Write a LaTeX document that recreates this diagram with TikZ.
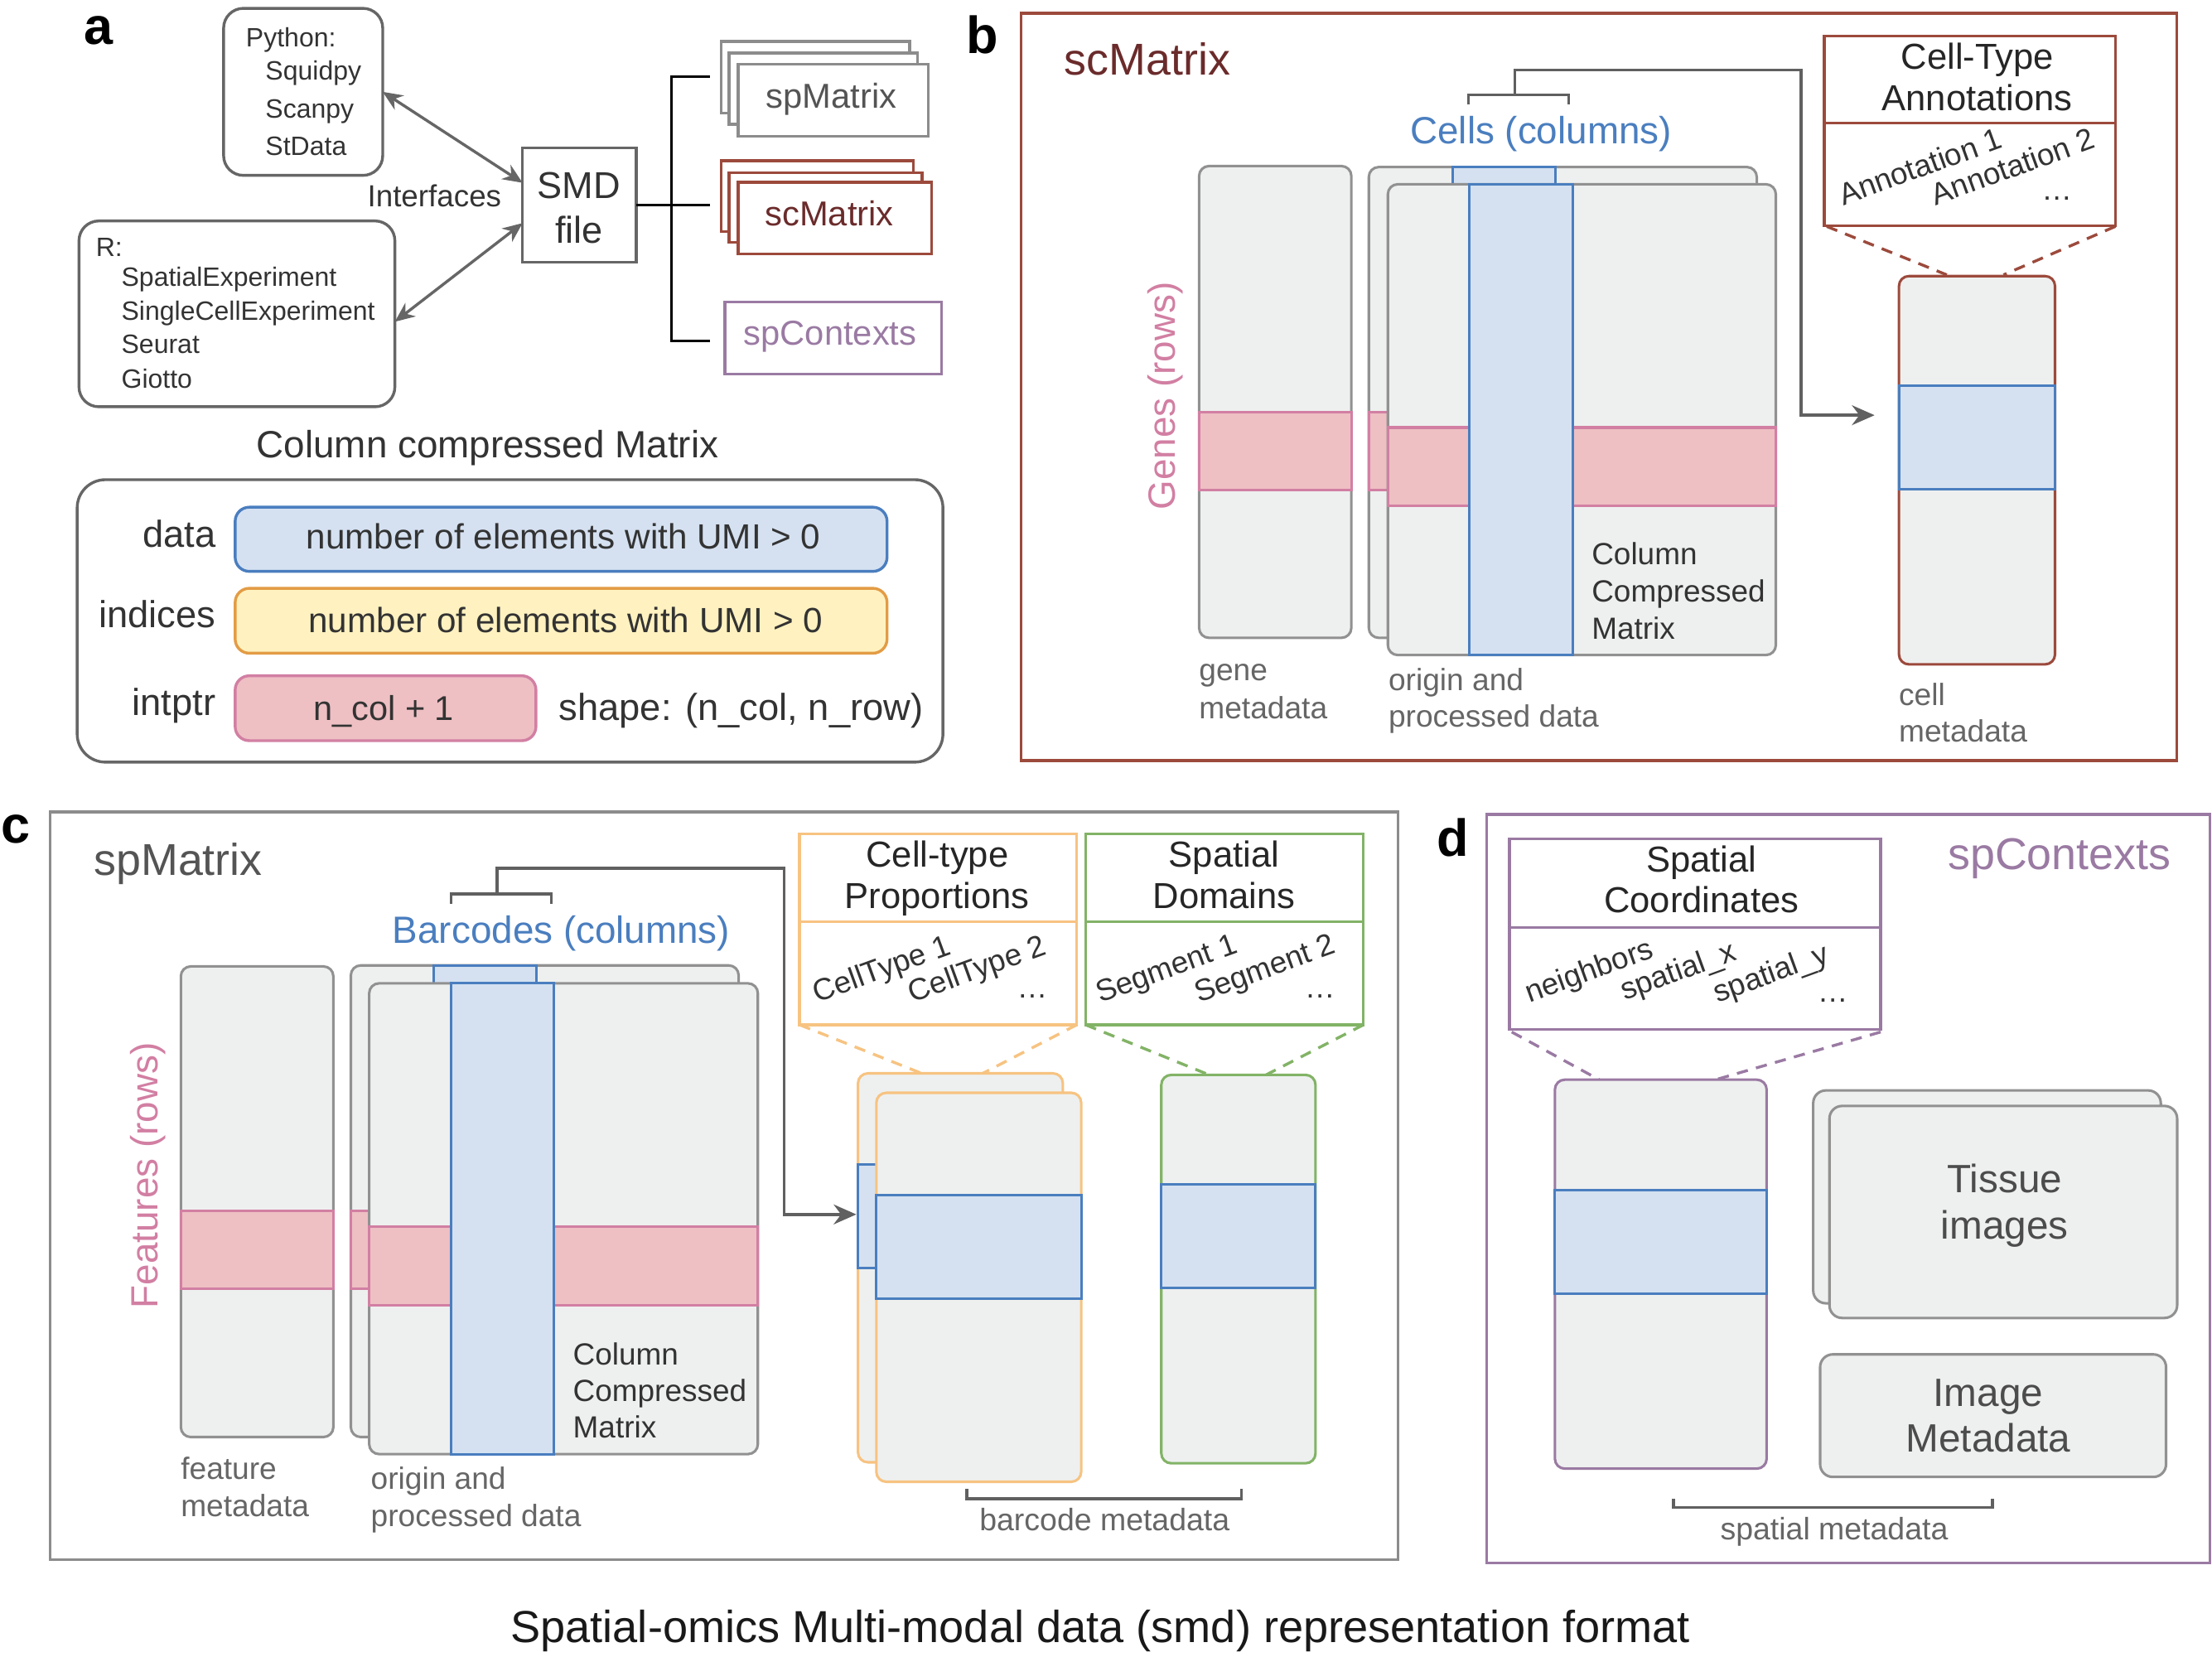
\documentclass[tikz,border=0pt]{standalone}
\usepackage{fontspec}
\setmainfont{Liberation Sans}
\usetikzlibrary{arrows.meta}
\newcommand\fsz[1]{\fontsize{#1}{#1}\selectfont}
\definecolor{txt}{HTML}{333333}
\definecolor{txtg}{HTML}{666666}
\definecolor{boxg}{HTML}{666666}
\definecolor{brk}{HTML}{606060}
\definecolor{matb}{HTML}{919191}
\definecolor{matf}{HTML}{EEF0EF}
\definecolor{pinkf}{HTML}{EEBFC3}
\definecolor{pinkd}{HTML}{D27FA3}
\definecolor{bluef}{HTML}{D5E1F1}
\definecolor{blued}{HTML}{4A7EBF}
\definecolor{yelf}{HTML}{FFF2C0}
\definecolor{orad}{HTML}{E39C45}
\definecolor{brn}{HTML}{9C4A3C}
\definecolor{darkred}{HTML}{6B2B2B}
\definecolor{lorange}{HTML}{F7C381}
\definecolor{grn}{HTML}{82B366}
\definecolor{purp}{HTML}{9A7AA3}
\definecolor{framec}{HTML}{8C8C8C}
\definecolor{stkg}{HTML}{8C8C8C}
\tikzset{
  t/.style={inner sep=0pt, outer sep=0pt},
  mat/.style={draw=matb, fill=matf, line width=0.9pt, rounded corners=3.5pt},
  pband/.style={draw=pinkd, fill=pinkf, line width=0.9pt},
  bband/.style={draw=blued, fill=bluef, line width=0.9pt},
  stk/.style={draw=#1, fill=white, line width=1pt},
  abox/.style={draw=boxg, line width=1pt, inner sep=0pt, outer sep=0pt},
  dbl/.style={draw=boxg, line width=1pt, {Stealth[length=7pt,width=6pt]}-{Stealth[length=7pt,width=6pt]}},
  brack/.style={draw=brk, line width=1pt},
  parr/.style={draw=brk, line width=1pt, -{Stealth[length=8pt,width=7pt]}},
  dsh/.style={line width=1pt, dash pattern=on 4pt off 3pt},
  rot/.style={t, rotate=20, anchor=base west, font=\fsz{10.8}, text=txt},
  small/.style={t, anchor=base west, font=\fsz{10.9}, text=txtg},
  ccm/.style={t, anchor=base west, font=\fsz{10.85}, text=txt},
  ttl/.style={t, anchor=base, font=\fsz{12.8}, text=black!85},
  letter/.style={t, anchor=base west, font=\bfseries\fsz{18.5}},
}
\begin{document}
\begin{tikzpicture}[x=0.5pt,y=-0.5pt]
\useasboundingbox (0,0) rectangle (1568,1174.5);
\fill[white] (0,0) rectangle (1568,1174.5);

%% ---------------- panel a ----------------
\node[letter] (la) at (59.5,31.3) {a};
\node[abox, rounded corners=7pt, minimum width=56.4pt, minimum height=59.2pt] (py) at (214.9,65.1) {};
\node[abox, rounded corners=7pt, minimum width=111.95pt, minimum height=65.85pt] (rb) at (167.95,222.45) {};
\node[abox, minimum width=40.25pt, minimum height=40.65pt] (smd) at (410.65,145.35) {};
\begin{scope}[every node/.style={t, anchor=base west, font=\fsz{9.4}, text=txt}]
\node (py0) at (174.4,33.3) {Python:};
\node (py1) at (188.2,56.7) {Squidpy};
\node (py2) at (188.2,83.8) {Scanpy};
\node (py3) at (188.2,110) {StData};
\node (r0) at (68,181.7) {R:};
\node (r1) at (86.1,202.6) {SpatialExperiment};
\node (r2) at (86.1,226.7) {SingleCellExperiment};
\node (r3) at (86.1,250.5) {Seurat};
\node (r4) at (86.1,275) {Giotto};
\end{scope}
\node[t, anchor=base west, font=\fsz{10.8}, text=txt] (intf) at (260.5,146.8) {Interfaces};
\node[t, anchor=base, font=\fsz{13.25}, text=txt] (smd1) at (410.4,140.5) {SMD};
\node[t, anchor=base, font=\fsz{13.25}, text=txt] (smd2) at (410.4,172.2) {file};
\draw[dbl] (py.east) -- ([yshift=7.9pt]smd.west);
\draw[dbl] ([yshift=-2.8pt]rb.east) -- ([yshift=-6.4pt]smd.west);
% bracket
\coordinate (bk0) at (475.9,145.35);
\draw[line width=1pt] (smd.east) -- (bk0);
\draw[line width=1pt] (503,54.4) -- (475.9,54.4) -- (475.9,241.8) -- (503,241.8);
\draw[line width=1pt] (475.9,145.2) -- (503,145.2);
% stacks
\draw[stk=stkg] (511.2,29.4) rectangle (644.7,80.2);
\draw[stk=stkg] (516.8,37.6) rectangle (650.3,88);
\draw[stk=stkg] (523.3,45.4) rectangle (658,96.5);
\node[t, anchor=base, font=\fsz{12.25}, text=black!67] (spm) at (589.4,76.7) {spMatrix};
\draw[stk=brn] (511.2,113.9) rectangle (647.3,164);
\draw[stk=brn] (516.8,122.3) rectangle (653.7,171.9);
\draw[stk=brn] (523.3,129.2) rectangle (660.2,180);
\node[t, anchor=base, font=\fsz{12.25}, text=darkred] (scm) at (587.9,160.1) {scMatrix};
\draw[stk=purp] (513.8,214) rectangle (667.5,265);
\node[t, anchor=base, font=\fsz{12.25}, text=purp] (spc) at (588.5,244.7) {spContexts};
% CSC matrix
\node[t, anchor=base, font=\fsz{13.45}, text=txt] (csct) at (345.6,324.5) {Column compressed Matrix};
\draw[draw=boxg, line width=1pt, rounded corners=10pt] (54.7,340) rectangle (668.4,540.2);
\draw[draw=blued, fill=bluef, line width=1pt, rounded corners=5pt] (166.7,359.5) rectangle (628.8,405);
\draw[draw=orad, fill=yelf, line width=1pt, rounded corners=5pt] (166.7,417) rectangle (628.8,463);
\draw[draw=pinkd, fill=pinkf, line width=1pt, rounded corners=5pt] (166.7,479) rectangle (379.9,525);
\node[t, anchor=base, font=\fsz{12.4}, text=txt] (dtxt) at (399.4,389.1) {number of elements with UMI > 0};
\node[t, anchor=base, font=\fsz{12.4}, text=txt] (itxt) at (401,448.2) {number of elements with UMI > 0};
\node[t, anchor=base, font=\fsz{12.2}, text=txt] (ptxt) at (272,510.5) {n\_col + 1};
\node[t, anchor=base west, font=\fsz{13.3}, text=txt] (shp) at (396.2,510.5) {shape: (n\_col, n\_row)};
\node[t, anchor=base east, font=\fsz{13.3}, text=txt] (ldata) at (152.9,388.1) {data};
\node[t, anchor=base east, font=\fsz{13.3}, text=txt] (lind) at (152.9,444.9) {indices};
\node[t, anchor=base east, font=\fsz{13.3}, text=txt] (lptr) at (152.9,507) {intptr};

%% ---------------- panel b ----------------
\draw[brn, line width=1pt] (723.9,9.4) rectangle (1543,539.1);
\node[letter] (lb) at (685,38) {b};
\node[t, anchor=base west, font=\fsz{15.8}, text=darkred] (bt) at (754.6,52.9) {scMatrix};
\draw[mat] (850,117.7) rectangle (957.9,452.1);
\draw[pband] (850,291.9) rectangle (957.9,347.6);
\draw[mat] (970.3,118.4) rectangle (1245.3,452.1);
\draw[pband] (970.3,291.9) rectangle (1245.3,347.6);
\draw[bband] (1029.6,118.4) rectangle (1102.4,452.1);
\draw[mat] (983.8,130.6) rectangle (1258.8,464.3);
\draw[pband] (983.8,303) rectangle (1258.8,358.7);
\draw[bband] (1041.5,130.6) rectangle (1114.8,464.3);
\node[ccm] (bc1) at (1128.3,400.5) {Column};
\node[ccm] (bc2) at (1128.3,426.6) {Compressed};
\node[ccm] (bc3) at (1128.3,452.8) {Matrix};
\node[t, anchor=base, font=\fsz{13.45}, text=blued] (cells) at (1092.4,101.7) {Cells (columns)};
\node[t, rotate=90, font=\fsz{13.45}, text=pinkd] (genes) at (826,280.7) {Genes (rows)};
\node[small] (bg1) at (850,482.4) {gene};
\node[small] (bg2) at (850,509.2) {metadata};
\node[small] (bo1) at (984.3,489.3) {origin and};
\node[small] (bo2) at (984.3,515.5) {processed data};
\draw[brn, line width=1pt, fill=white] (1293.2,25.4) rectangle (1499.7,159.9);
\draw[brn, line width=1pt] (1293.2,87.1) -- (1499.7,87.1);
\node[ttl] (ct1) at (1401.6,48.9) {Cell-Type};
\node[ttl] (ct2) at (1401.6,78.3) {Annotations};
\node[rot] (an1) at (1306.7,145.8) {Annotation 1};
\node[rot] (an2) at (1372.3,145.8) {Annotation 2};
\node[t, anchor=base, font=\fsz{10.8}, text=txt] (an3) at (1458,141.9) {…};
\draw[brn, dsh] (1294.9,160.5) -- (1380,194.8);
\draw[brn, dsh] (1499.5,160.5) -- (1420.2,194.8);
\draw[mat, draw=brn] (1346.1,195.7) rectangle (1456.7,470.9);
\draw[bband] (1346.1,273.4) rectangle (1456.7,346.6);
\node[small] (bcm1) at (1346.1,499.8) {cell};
\node[small] (bcm2) at (1346.1,525.9) {metadata};
\draw[brack] (1040.9,74.2) -- (1040.9,67.2) -- (1112.1,67.2) -- (1112.1,74.2);
\coordinate (bs0) at (1073.8,67.2);
\coordinate (bs1) at (1328.8,294.3);
\draw[parr] (bs0) |- (1276.6,49.5) |- (bs1);

%% ---------------- panel c ----------------
\draw[framec, line width=1pt] (35.6,575.4) rectangle (991,1105.5);
\node[letter] (lc) at (1,597.6) {c};
\node[t, anchor=base west, font=\fsz{15.8}, text=black!67] (ctt) at (66.6,620.6) {spMatrix};
\draw[mat] (128.2,685) rectangle (236.3,1018.6);
\draw[pband] (128.2,858.4) rectangle (236.3,913.5);
\draw[mat] (248.7,684.3) rectangle (523.6,1018.6);
\draw[pband] (248.7,858.4) rectangle (523.6,913.5);
\draw[bband] (307.4,684.3) rectangle (380.3,1018.6);
\draw[mat] (261.7,697) rectangle (537.2,1030.7);
\draw[pband] (261.7,869.4) rectangle (537.2,925.2);
\draw[bband] (319.7,697) rectangle (392.6,1030.7);
\node[ccm] (cc1) at (406.2,967.6) {Column};
\node[ccm] (cc2) at (406.2,993.4) {Compressed};
\node[ccm] (cc3) at (406.2,1019.3) {Matrix};
\node[t, anchor=base, font=\fsz{13.45}, text=blued] (barc) at (397.9,668.8) {Barcodes (columns)};
\node[t, rotate=90, font=\fsz{13.45}, text=pinkd] (feat) at (105,833.2) {Features (rows)};
\node[small] (cf1) at (128.2,1048.6) {feature};
\node[small] (cf2) at (128.2,1075.1) {metadata};
\node[small] (co1) at (262.9,1055.5) {origin and};
\node[small] (co2) at (262.9,1082) {processed data};
\draw[brack] (319.7,640.6) -- (319.7,633.7) -- (390.8,633.7) -- (390.8,640.6);
\coordinate (cs0) at (352.4,633.7);
\coordinate (cs1) at (607,860.8);
\draw[parr] (cs0) |- (555.7,615.4) |- (cs1);
% annotation boxes
\draw[lorange, line width=1pt, fill=white] (566.8,591) rectangle (763.3,726.4);
\draw[lorange, line width=1pt] (566.8,653.3) -- (763.3,653.3);
\node[ttl] (cp1) at (664.4,614.4) {Cell-type};
\node[ttl] (cp2) at (664.4,643.7) {Proportions};
\node[rot] (ctp1) at (579.2,710.9) {CellType 1};
\node[rot] (ctp2) at (647.1,710.9) {CellType 2};
\node[t, anchor=base, font=\fsz{10.8}, text=txt] (ctp3) at (731.8,707.4) {…};
\draw[grn, line width=1pt, fill=white] (769.5,591) rectangle (966.5,726.4);
\draw[grn, line width=1pt] (769.5,653.3) -- (966.5,653.3);
\node[ttl] (sd1) at (867.7,614.4) {Spatial};
\node[ttl] (sd2) at (867.7,643.7) {Domains};
\node[rot] (sg1) at (780,710.9) {Segment 1};
\node[rot] (sg2) at (849.8,710.9) {Segment 2};
\node[t, anchor=base, font=\fsz{10.8}, text=txt] (sg3) at (935.6,707.4) {…};
\draw[lorange, dsh] (566.8,726.4) -- (653.3,760.8);
\draw[lorange, dsh] (763.3,726.4) -- (696.6,760.8);
\draw[grn, dsh] (769.5,726.4) -- (857.2,761.9);
\draw[grn, dsh] (966.5,726.4) -- (897.4,761.9);
\draw[mat, draw=lorange] (608.2,760.8) rectangle (753.4,1036.5);
\draw[bband] (608.2,825.3) rectangle (753.4,898.6);
\draw[mat, draw=lorange] (621.2,774.6) rectangle (766.4,1050.3);
\draw[bband] (621.2,847) rectangle (766.4,920.4);
\draw[mat, draw=grn] (823.2,761.9) rectangle (932.5,1037.2);
\draw[bband] (823.2,839.4) rectangle (932.5,913.1);
\draw[brack] (685.4,1055.5) -- (685.4,1062.4) -- (880,1062.4) -- (880,1055.5);
\node[t, anchor=base, font=\fsz{11}, text=txtg] (bcm) at (783,1084.7) {barcode metadata};

%% ---------------- panel d ----------------
\draw[purp, line width=1pt] (1053.7,577.2) rectangle (1566.5,1107.9);
\node[letter] (ld) at (1018.7,607) {d};
\node[t, anchor=base, font=\fsz{15.8}, text=purp] (dt) at (1459.8,616.1) {spContexts};
\draw[purp, line width=1pt, fill=white] (1069.9,594.7) rectangle (1333.1,729.8);
\draw[purp, line width=1pt] (1069.9,657.4) -- (1333.1,657.4);
\node[ttl] (sc1) at (1206.1,617.8) {Spatial};
\node[ttl] (sc2) at (1206.1,647.1) {Coordinates};
\node[rot] (nb) at (1084.1,710.9) {neighbors};
\node[rot] (spx) at (1151.7,709.2) {spatial\_x};
\node[rot] (spy) at (1217.7,710.9) {spatial\_y};
\node[t, anchor=base, font=\fsz{10.8}, text=txt] (spd) at (1299.2,710) {…};
\draw[purp, dsh] (1071.6,731.5) -- (1133.6,765.3);
\draw[purp, dsh] (1333.1,731.5) -- (1216.1,765.3);
\draw[mat, draw=purp] (1102.2,765.3) rectangle (1252.3,1041);
\draw[bband] (1102.2,843.5) rectangle (1252.3,916.9);
\draw[mat, rounded corners=4.5pt] (1285.3,772.9) rectangle (1531.7,923.8);
\draw[mat, rounded corners=4.5pt] (1296.8,783.9) rectangle (1543.3,934.2);
\node[t, anchor=base, font=\fsz{14}, text=black!70] (ti1) at (1421,845.3) {Tissue};
\node[t, anchor=base, font=\fsz{14}, text=black!70] (ti2) at (1421,878) {images};
\draw[mat, rounded corners=4.5pt] (1290.2,960) rectangle (1535.4,1046.9);
\node[t, anchor=base, font=\fsz{14}, text=black!70] (im1) at (1409.4,996.9) {Image};
\node[t, anchor=base, font=\fsz{14}, text=black!70] (im2) at (1409.4,1028.9) {Metadata};
\draw[brack] (1186.3,1062.4) -- (1186.3,1068.6) -- (1412.3,1068.6) -- (1412.3,1062.4);
\node[t, anchor=base, font=\fsz{11}, text=txtg] (spm2) at (1300.2,1091.7) {spatial metadata};

%% caption
\node[t, anchor=base, font=\fsz{15.9}, text=black!90] (cap) at (780,1164.4) {Spatial-omics Multi-modal data (smd) representation format};
\end{tikzpicture}
\end{document}
